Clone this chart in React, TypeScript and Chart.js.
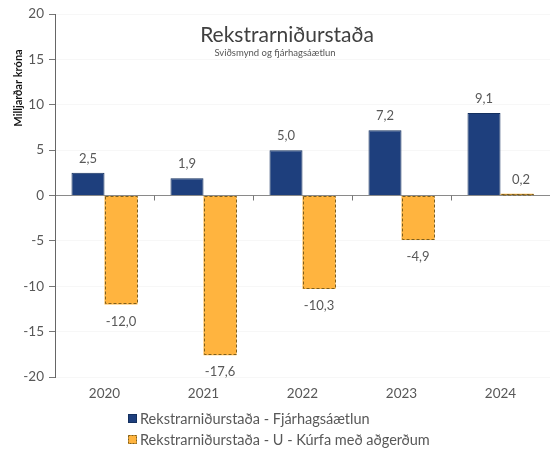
import React, { useEffect, useRef } from "react";
import { Chart, registerables } from "chart.js";

Chart.register(...registerables);

const categories = ["2020", "2021", "2022", "2023", "2024"];
const budgetValues = [2.5, 1.9, 5.0, 7.2, 9.1];
const curveValues = [-12.0, -17.6, -10.3, -4.9, 0.2];
const seriesNames = [
  "Rekstrarniðurstaða - Fjárhagsáætlun",
  "Rekstrarniðurstaða - U - Kúrfa með aðgerðum",
];
const titleText = "Rekstrarniðurstaða";
const subtitleText = "Sviðsmynd og fjárhagsáætlun";
const yAxisTitle = "Milljarðar króna";

const BLUE = "#1e3f7d";
const BLUE_BORDER = "#14305f";
const ORANGE = "#ffb43f";
const ORANGE_BORDER = "#7d5f1e";
const FONT = "Lato, 'Open Sans', sans-serif";
const TEXT = "#585858";

const fmt = (v: number) => v.toFixed(1).replace(".", ",");

const overlayPlugin = {
  id: "overlay",
  afterDatasetsDraw(chart: any) {
    const ctx = chart.ctx as CanvasRenderingContext2D;
    const area = chart.chartArea;
    const ys = chart.scales.y;
    const zeroY = ys.getPixelForValue(0);

    ctx.save();
    ctx.strokeStyle = "#777";
    ctx.lineWidth = 1;
    const n = categories.length;
    for (let i = 1; i < n; i++) {
      const x = Math.round(area.left + (i * (area.right - area.left)) / n) + 0.5;
      ctx.beginPath();
      ctx.moveTo(x, zeroY);
      ctx.lineTo(x, zeroY + 5);
      ctx.stroke();
    }

    const meta1 = chart.getDatasetMeta(1);
    ctx.setLineDash([3, 2]);
    ctx.strokeStyle = ORANGE_BORDER;
    ctx.lineWidth = 1;
    meta1.data.forEach((bar: any) => {
      const p = bar.getProps(["x", "y", "base", "width"], true);
      const l = Math.round(p.x - p.width / 2) + 0.5;
      const r = Math.round(p.x + p.width / 2) - 0.5;
      const t = Math.round(Math.min(p.y, p.base)) + 0.5;
      const b = Math.round(Math.max(p.y, p.base)) - 0.5;
      ctx.strokeRect(l, t, r - l, Math.max(b - t, 0.5));
    });
    ctx.setLineDash([]);

    ctx.font = `13px ${FONT}`;
    ctx.fillStyle = TEXT;
    ctx.textAlign = "center";
    ctx.textBaseline = "middle";
    [0, 1].forEach((di) => {
      const meta = chart.getDatasetMeta(di);
      const vals = di === 0 ? budgetValues : curveValues;
      meta.data.forEach((bar: any, i: number) => {
        const v = vals[i];
        const p = bar.getProps(["x", "y"], true);
        const y = v >= 0 ? p.y - 14 : p.y + 17;
        ctx.fillText(fmt(v), p.x + (di === 1 && v >= 0 ? 4 : 0), y);
      });
    });

    ctx.fillStyle = "#404040";
    ctx.font = `21px ${FONT}`;
    ctx.fillText(titleText, 287, 35);
    ctx.font = `9.5px ${FONT}`;
    ctx.fillStyle = "#555";
    ctx.fillText(subtitleText, 275, 53);

    ctx.save();
    ctx.translate(18, 88);
    ctx.rotate(-Math.PI / 2);
    ctx.font = `bold 11px ${FONT}`;
    ctx.fillStyle = "#111";
    ctx.fillText(yAxisTitle, 0, 0);
    ctx.restore();

    ctx.textAlign = "left";
    ctx.font = `14.5px ${FONT}`;
    const rows = [419, 440];
    rows.forEach((ry, i) => {
      ctx.fillStyle = i === 0 ? BLUE : ORANGE;
      ctx.fillRect(128, ry - 5, 9, 9);
      if (i === 1) {
        ctx.setLineDash([2, 1]);
        ctx.strokeStyle = ORANGE_BORDER;
        ctx.strokeRect(128.5, ry - 4.5, 8, 8);
        ctx.setLineDash([]);
      } else {
        ctx.strokeStyle = BLUE_BORDER;
        ctx.strokeRect(128.5, ry - 4.5, 8, 8);
      }
      ctx.fillStyle = TEXT;
      ctx.fillText(seriesNames[i], 140, ry);
    });
    ctx.restore();
  },
};

export default function App() {
  const ref = useRef<HTMLCanvasElement | null>(null);
  useEffect(() => {
    if (!ref.current) return;
    const chart = new Chart(ref.current, {
      type: "bar",
      data: {
        labels: categories,
        datasets: [
          {
            label: seriesNames[0],
            data: budgetValues,
            backgroundColor: BLUE,
            borderColor: BLUE_BORDER,
            borderWidth: 1,
            categoryPercentage: 0.667,
            barPercentage: 1,
          },
          {
            label: seriesNames[1],
            data: curveValues,
            backgroundColor: ORANGE,
            borderWidth: 0,
            categoryPercentage: 0.667,
            barPercentage: 1,
          },
        ],
      },
      options: {
        animation: false,
        responsive: true,
        maintainAspectRatio: false,
        layout: { padding: { top: 14, right: 1, bottom: 46, left: 0 } },
        plugins: {
          legend: { display: false },
          title: { display: false },
          tooltip: { enabled: false },
        },
        scales: {
          x: {
            grid: { display: false, drawTicks: false },
            border: { display: false },
            ticks: {
              color: TEXT,
              font: { family: FONT, size: 13.5 },
              padding: 9,
            },
            afterFit: (s: any) => {
              s.height = 30;
            },
          },
          y: {
            min: -20,
            max: 20,
            ticks: {
              stepSize: 5,
              color: TEXT,
              font: { family: FONT, size: 13.5 },
              padding: 5,
            },
            grid: {
              color: (c: any) =>
                c.tick && c.tick.value === 0 ? "#8a8a8a" : "rgba(0,0,0,0.03)",
              tickColor: "#777",
              tickLength: 6,
              drawTicks: true,
            },
            border: { display: true, color: "#666" },
            afterFit: (s: any) => {
              s.width = 55;
            },
          },
        },
      },
      plugins: [overlayPlugin],
    });
    return () => chart.destroy();
  }, []);
  return (
    <div style={{ position: "fixed", left: 0, top: 0, width: 551, height: 453, background: "#fff" }}>
      <canvas ref={ref} />
    </div>
  );
}
